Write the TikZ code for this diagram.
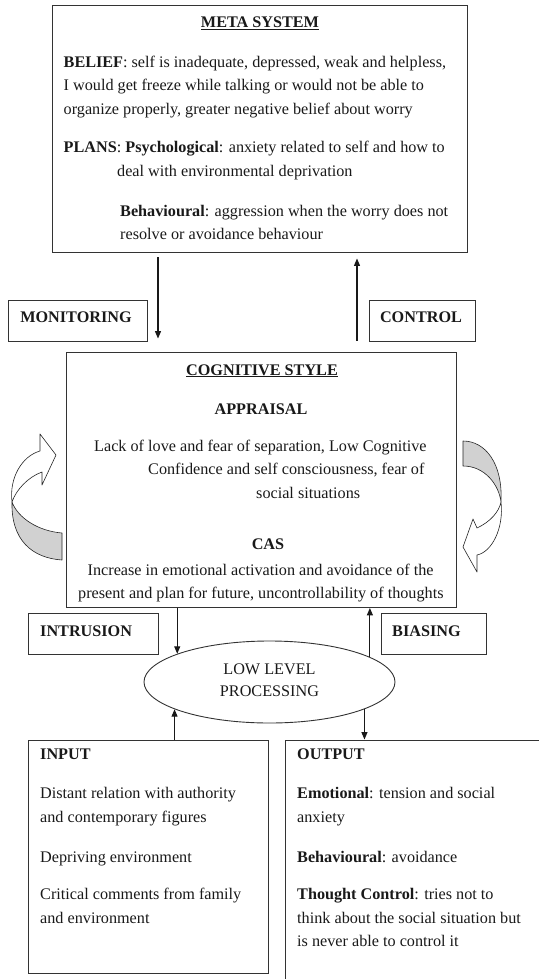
\documentclass[tikz,border=0pt]{standalone}
\usepackage{fontspec}
\setmainfont{Liberation Serif}
\usetikzlibrary{arrows.meta,shapes.geometric,calc}
\definecolor{edge}{gray}{0.2}
\definecolor{ink}{gray}{0.1}
\definecolor{shade}{gray}{0.82}
\begin{document}
\begin{tikzpicture}[x=1pt,y=-1pt,
  txt/.style={inner sep=0pt, anchor=base west, font=\fontsize{16.2}{23.5}\selectfont, text=ink},
  ctxt/.style={txt, anchor=base},
  box/.style={draw=edge, line width=0.9pt, inner sep=0pt, rectangle},
  arr/.style={draw=ink, line width=1.1pt, -{Triangle[length=7.5pt,width=6pt]}},
  frontface/.style={draw=black!85, line width=0.6pt, fill=white, line join=round},
  backface/.style={frontface, fill=shade}]

\useasboundingbox (0,0) rectangle (538,979);

% ---------- boxes ----------
\node[box, minimum width=415pt, minimum height=247pt] (meta) at (259.5,128.5) {};
\node[box, minimum width=138.4pt, minimum height=41pt] (mon) at (77.8,320.5) {};
\node[box, minimum width=106pt, minimum height=41pt] (ctl) at (422,320.5) {};
\node[box, minimum width=390pt, minimum height=255pt] (cog) at (261,480) {};
\node[box, minimum width=129.5pt, minimum height=41pt] (intr) at (93.25,633.5) {};
\node[box, minimum width=105pt, minimum height=41pt] (bias) at (433.5,633.5) {};
\node[draw=edge, line width=0.9pt, ellipse, inner sep=0pt,
      minimum width=251pt, minimum height=82pt] (ell) at (269.5,682) {};
\node[box, minimum width=239.5pt, minimum height=233pt] (input) at (148.25,856.5) {};
\node[box, minimum width=280pt, minimum height=260pt] (output) at (425.5,870) {};

% ---------- meta system ----------
\node[ctxt] (ms) at (260,28) {\textbf{\underline{META SYSTEM}}};
\node[txt] (b1) at (63.5,68) {\textbf{BELIEF}: self is inadequate, depressed, weak and helpless,};
\node[txt] (b2) at (63.5,91) {I would get freeze while talking or would not be able to};
\node[txt] (b3) at (63.5,115) {organize properly, greater negative belief about worry};
\node[txt] (p1) at (63.5,152) {\textbf{PLANS}: \textbf{Psychological}: anxiety related to self and how to};
\node[txt] (p2) at (117,176) {deal with environmental deprivation};
\node[txt] (p3) at (120,216) {\textbf{Behavioural}: aggression when the worry does not};
\node[txt] (p4) at (120,239) {resolve or avoidance behaviour};

% ---------- side labels ----------
\node[ctxt] (monl) at (76,322) {\textbf{MONITORING}};
\node[ctxt] (ctll) at (421,322) {\textbf{CONTROL}};
\node[txt] (intrl) at (40,636) {\textbf{INTRUSION}};
\node[txt] (biasl) at (392,636) {\textbf{BIASING}};

% ---------- cognitive style ----------
\node[ctxt] (cs) at (262,375) {\textbf{\underline{COGNITIVE STYLE}}};
\node[ctxt] (ap) at (261,414.5) {\textbf{APPRAISAL}};
\node[txt] (a1) at (94,451) {Lack of love and fear of separation, Low Cognitive};
\node[txt] (a2) at (148,474.5) {Confidence and self consciousness, fear of};
\node[txt] (a3) at (256,498) {social situations};
\node[ctxt] (cas) at (268,549) {\textbf{CAS}};
\node[txt] (c1) at (87.5,575) {Increase in emotional activation and avoidance of the};
\node[txt] (c2) at (78,598) {present and plan for future, uncontrollability of thoughts};

% ---------- low level processing ----------
\node[ctxt] (lp1) at (269.5,674) {LOW LEVEL};
\node[ctxt] (lp2) at (269.5,696) {PROCESSING};

% ---------- input ----------
\node[txt] (in0) at (40,759) {\textbf{INPUT}};
\node[txt] (in1) at (40,798) {Distant relation with authority};
\node[txt] (in2) at (40,822) {and contemporary figures};
\node[txt] (in3) at (40,862) {Depriving environment};
\node[txt] (in4) at (40,899) {Critical comments from family};
\node[txt] (in5) at (40,923) {and environment};

% ---------- output ----------
\node[txt] (out0) at (297,759) {\textbf{OUTPUT}};
\node[txt] (out1) at (297,798) {\textbf{Emotional}: tension and social};
\node[txt] (out2) at (297,822) {anxiety};
\node[txt] (out3) at (297,862) {\textbf{Behavioural}: avoidance};
\node[txt] (out4) at (297,899) {\textbf{Thought Control}: tries not to};
\node[txt] (out5) at (297,923) {think about the social situation but};
\node[txt] (out6) at (297,946) {is never able to control it};

% ---------- connectors ----------
\coordinate (xm) at (158,0);
\coordinate (xc) at (357,0);
\draw[arr, shorten <=5pt, shorten >=13.5pt] (meta.south -| xm) -- (cog.north -| xm);
\draw[arr, shorten <=11.5pt, shorten >=6pt] (cog.north -| xc) -- (meta.south -| xc);
\draw[arr] (cog.south -| ell.163.7) -- (ell.163.7);
\draw[arr] (ell.14.1) -- (cog.south -| ell.14.1);
\draw[arr] (input.north -| ell.196.3) -- (ell.196.3);
\draw[arr] (ell.344.8) -- (output.north -| ell.344.8);

% ---------- curved feedback arrows ----------
% left: rises from the box edge and points back at it
\path[backface] (12,502) .. controls (18,518) and (38,531) .. (62,533)
  -- (62,560) .. controls (32,558) and (11,540) .. (12,502) -- cycle;
\path[frontface] (12,502) .. controls (9,478) and (22,456) .. (40,451)
  -- (40,434) -- (56,455) -- (42,485) -- (42,472)
  .. controls (28,477) and (16,490) .. (12,502) -- cycle;
% right: descends from the box edge and points back at it
\path[backface] (463,441) .. controls (485,441) and (503,463) .. (501,502)
  .. controls (499,485) and (485,466) .. (463,466) -- cycle;
\path[frontface] (501,502) .. controls (504,528) and (492,552) .. (477,555)
  -- (477,572) -- (463,547) -- (473,519) -- (477,528)
  .. controls (490,522) and (499,512) .. (501,502) -- cycle;
\end{tikzpicture}
\end{document}
